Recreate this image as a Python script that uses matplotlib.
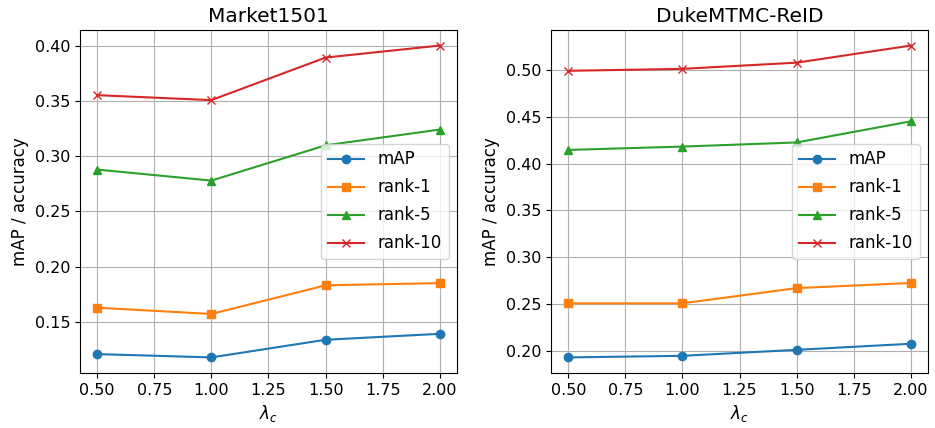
import matplotlib
matplotlib.use('Agg')
import matplotlib.pyplot as plt

lam = [0.5, 1.0, 1.5, 2.0]

# Market1501
m_map = [0.1206, 0.1176, 0.1336, 0.139]
m_r1 = [0.1627, 0.157, 0.183, 0.185]
m_r5 = [0.288, 0.278, 0.310, 0.3243]
m_r10 = [0.3555, 0.351, 0.3896, 0.4005]

# DukeMTMC-ReID
d_map = [0.1929, 0.1946, 0.201, 0.2075]
d_r1 = [0.2507, 0.2507, 0.267, 0.2725]
d_r5 = [0.4147, 0.4183, 0.4227, 0.4453]
d_r10 = [0.4993, 0.5014, 0.508, 0.5263]

titles = ['Market1501', 'DukeMTMC-ReID']
series = [[m_map, m_r1, m_r5, m_r10], [d_map, d_r1, d_r5, d_r10]]
names = ['mAP', 'rank-1', 'rank-5', 'rank-10']
markers = ['o', 's', '^', 'x']

fig, axes = plt.subplots(1, 2, figsize=(9.35, 4.28), dpi=100)
fig.subplots_adjust(left=0.0856, right=0.9925, top=0.93, bottom=0.1285, wspace=0.25)

for ax, title, data in zip(axes, titles, series):
    for vals, name, mk in zip(data, names, markers):
        ax.plot(lam, vals, marker=mk, markersize=6, label=name)
    ax.set_title(title, fontsize=14.5)
    ax.set_xlabel(r'$\lambda_c$', fontsize=12)
    ax.set_ylabel('mAP / accuracy', fontsize=12)
    ax.tick_params(labelsize=11.5)
    ax.grid(True)
    ax.legend(loc='center right', fontsize=12, handlelength=2.2, labelspacing=0.6)

plt.savefig('out.png', dpi=100)
